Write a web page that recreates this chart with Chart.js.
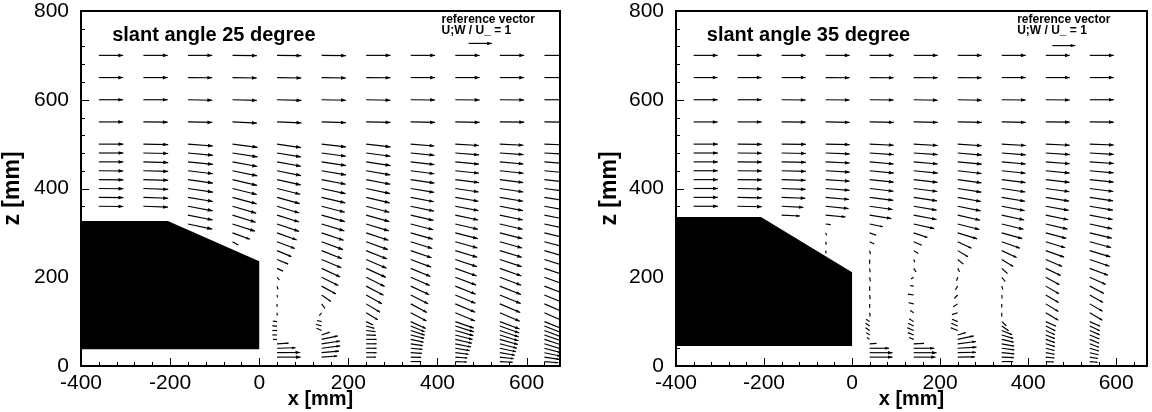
<!DOCTYPE html>
<html><head><meta charset="utf-8">
<script src="https://cdn.jsdelivr.net/npm/chart.js@4.4.1/dist/chart.umd.min.js"></script>
<style>
html,body{margin:0;padding:0;background:#fff;overflow:hidden;}
.w{position:absolute;top:0;width:576px;height:412px;}
#w1{left:0}#w2{left:576px}
</style></head><body>
<div class="w" id="w1"><canvas id="c1" width="576" height="412"></canvas></div>
<div class="w" id="w2"><canvas id="c2" width="576" height="412"></canvas></div>
<script>
const _ = null;
// measurement heights z [mm] (rows)
const zRows = [700,650,600,550, 500,480,460,440,420,400,380,360,340,320,300,280,260,240,220,200,180,160,140,120, 100,90,80,70,60,50,40,30,20,10];
const xTicks = [-400,-200,0,200,400,600];
const xTickLabels = ['-400','-200','0','200','400','600'];
const zTicks = [0,200,400,600,800];
const zTickLabels = ['0','200','400','600','800'];
const titles = ['slant angle 25 degree','slant angle 35 degree'];
const refLabel1 = 'reference vector';
const refLabel2 = 'U;W / U_ = 1';
const refU = 1;

// ---- slant angle 25 degree ----
const xCols25 = [-360,-260,-160,-60,40,140,240,340,440,540,640];
const u25 = [
 [1.05,1.05,1.05,1.05, 1.06,1.06,1.06,1.06,1.06,1.06,1.06,1.06,_,_,_,_,_,_,_,_,_,_,_,_, _,_,_,_,_,_,_,_,_,_],
 [1.05,1.05,1.05,1.05, 1.07,1.07,1.07,1.07,1.07,1.07,1.07,1.06,_,_,_,_,_,_,_,_,_,_,_,_, _,_,_,_,_,_,_,_,_,_],
 [1.05,1.05,1.05,1.05, 1.08,1.08,1.08,1.08,1.08,1.08,1.08,1.07,1.07,1.05,_,_,_,_,_,_,_,_,_,_, _,_,_,_,_,_,_,_,_,_],
 [1.05,1.05,1.05,1.05, 1.08,1.08,1.07,1.07,1.06,1.05,1.04,1.02,1.0,0.97,0.75,0.25,_,_,_,_,_,_,_,_, _,_,_,_,_,_,_,_,_,_],
 [1.05,1.05,1.05,1.05, 1.03,1.03,1.03,1.03,1.02,1.0,0.98,0.96,0.95,0.95,0.85,0.77,0.62,0.48,0.26,0.1,0.04,0.02,0.0,0.01, -0.18,-0.2,-0.2,-0.2,-0.18,0.5,0.8,1.0,1.02,_],
 [1.05,1.05,1.05,1.05, 1.05,1.05,1.05,1.05,1.04,1.03,1.02,1.0,1.0,0.98,0.95,0.92,0.88,0.85,0.8,0.72,0.62,0.4,0.15,-0.1, -0.2,-0.25,-0.22,0.35,0.7,0.8,0.8,0.75,0.68,_],
 [1.05,1.05,1.05,1.05, 1.05,1.05,1.05,1.04,1.04,1.03,1.02,1.0,1.0,0.98,0.96,0.94,0.9,0.88,0.85,0.8,0.75,0.68,0.6,0.5, 0.3,0.35,0.4,0.42,0.45,0.45,0.45,0.45,0.42,_],
 [1.05,1.05,1.05,1.05, 1.02,1.02,1.02,1.02,1.02,1.01,1.0,1.0,0.98,0.97,0.95,0.93,0.9,0.88,0.85,0.82,0.8,0.75,0.7,0.68, 0.65,0.6,0.6,0.58,0.55,0.52,0.5,0.48,0.45,0.45],
 [1.05,1.05,1.05,1.05, 1.02,1.02,1.02,1.02,1.02,1.01,1.0,1.0,0.99,0.98,0.97,0.96,0.95,0.93,0.92,0.9,0.88,0.87,0.86,0.85, 0.8,0.8,0.78,0.75,0.72,0.68,0.62,0.57,0.52,0.5],
 [1.05,1.05,1.05,1.05, 1.02,1.02,1.02,1.02,1.01,1.01,1.0,1.0,0.99,0.98,0.97,0.96,0.95,0.94,0.93,0.92,0.91,0.9,0.88,0.86, 0.85,0.84,0.82,0.8,0.78,0.74,0.7,0.65,0.6,0.56],
 [1.05,1.05,1.05,1.05, 1.02,1.02,1.02,1.02,1.02,1.01,1.01,1.0,1.0,0.99,0.98,0.97,0.96,0.95,0.94,0.93,0.92,0.91,0.9,0.9, 0.9,0.88,0.86,0.84,0.82,0.78,0.74,0.7,0.65,0.6]
];
const w25 = [
 [0,0,0,0, 0,0,0,-0.01,-0.01,-0.01,-0.01,-0.01,_,_,_,_,_,_,_,_,_,_,_,_, _,_,_,_,_,_,_,_,_,_],
 [0,0,0,-0.01, -0.02,-0.02,-0.03,-0.03,-0.03,-0.04,-0.04,-0.04,_,_,_,_,_,_,_,_,_,_,_,_, _,_,_,_,_,_,_,_,_,_],
 [0,-0.01,-0.02,-0.02, -0.08,-0.1,-0.11,-0.13,-0.15,-0.16,-0.18,-0.2,-0.21,-0.22,_,_,_,_,_,_,_,_,_,_, _,_,_,_,_,_,_,_,_,_],
 [-0.01,-0.02,-0.03,-0.05, -0.14,-0.17,-0.2,-0.22,-0.25,-0.26,-0.28,-0.3,-0.31,-0.31,-0.28,-0.14,_,_,_,_,_,_,_,_, _,_,_,_,_,_,_,_,_,_],
 [-0.01,-0.02,-0.03,-0.04, -0.15,-0.17,-0.19,-0.21,-0.23,-0.25,-0.27,-0.29,-0.3,-0.32,-0.31,-0.29,-0.26,-0.2,-0.12,-0.12,-0.14,-0.1,-0.12,-0.12, 0.02,0.01,0,0,0,0.03,0.02,0.01,0,_],
 [-0.01,-0.02,-0.02,-0.03, -0.12,-0.14,-0.16,-0.18,-0.2,-0.22,-0.24,-0.26,-0.28,-0.3,-0.32,-0.34,-0.35,-0.36,-0.37,-0.36,-0.34,-0.28,-0.2,-0.12, 0.05,0.08,0.1,0.12,0.15,0.12,0.1,0.07,0.05,_],
 [0,-0.01,-0.02,-0.02, -0.12,-0.14,-0.16,-0.18,-0.2,-0.22,-0.24,-0.26,-0.28,-0.3,-0.32,-0.34,-0.36,-0.38,-0.39,-0.4,-0.4,-0.38,-0.36,-0.3, -0.15,-0.1,-0.05,-0.02,0,0,0,0,0,_],
 [0,0,-0.01,-0.02, -0.08,-0.1,-0.12,-0.13,-0.15,-0.17,-0.19,-0.21,-0.23,-0.25,-0.27,-0.29,-0.31,-0.33,-0.35,-0.36,-0.37,-0.38,-0.37,-0.36, -0.3,-0.25,-0.2,-0.15,-0.12,-0.08,-0.05,-0.03,-0.01,0],
 [0,0,-0.01,-0.02, -0.06,-0.08,-0.1,-0.11,-0.13,-0.15,-0.17,-0.19,-0.21,-0.23,-0.25,-0.27,-0.29,-0.31,-0.33,-0.34,-0.35,-0.36,-0.36,-0.36, -0.28,-0.25,-0.22,-0.2,-0.17,-0.14,-0.1,-0.07,-0.04,-0.02],
 [0,0,-0.01,-0.01, -0.05,-0.07,-0.09,-0.11,-0.13,-0.15,-0.17,-0.19,-0.21,-0.23,-0.25,-0.27,-0.29,-0.31,-0.33,-0.35,-0.36,-0.37,-0.37,-0.37, -0.32,-0.3,-0.28,-0.25,-0.22,-0.19,-0.15,-0.11,-0.07,-0.03],
 [0,0,0,-0.01, -0.04,-0.06,-0.08,-0.1,-0.12,-0.14,-0.16,-0.18,-0.2,-0.22,-0.24,-0.26,-0.28,-0.3,-0.32,-0.34,-0.36,-0.38,-0.39,-0.4, -0.36,-0.34,-0.32,-0.3,-0.27,-0.24,-0.2,-0.15,-0.1,-0.05]
];
const bodyX25 = [-400,-400,-205,0,0];
const bodyZ25 = [38,327,327,236,38];

// ---- slant angle 35 degree ----
const xCols35 = [-360,-260,-160,-60,40,140,240,340,440,540];
const u35 = [
 [1.05,1.05,1.05,1.05, 1.06,1.06,1.06,1.06,1.06,1.06,1.06,1.06,_,_,_,_,_,_,_,_,_,_,_,_, _,_,_,_,_,_,_,_,_,_],
 [1.05,1.05,1.05,1.05, 1.06,1.06,1.06,1.06,1.06,1.06,1.06,1.06,_,_,_,_,_,_,_,_,_,_,_,_, _,_,_,_,_,_,_,_,_,_],
 [1.05,1.05,1.05,1.05, 1.06,1.06,1.06,1.06,1.05,1.05,1.04,0.95,0.8,_,_,_,_,_,_,_,_,_,_,_, _,_,_,_,_,_,_,_,_,_],
 [1.05,1.05,1.05,1.05, 1.05,1.05,1.05,1.05,1.05,1.04,1.02,1.0,0.87,0.22,0.04,0.03,0.02,_,_,_,_,_,_,_, _,_,_,_,_,_,_,_,_,_],
 [1.05,1.05,1.05,1.05, 1.05,1.05,1.05,1.05,1.05,1.04,1.03,1.0,0.95,0.58,0.28,0.2,0.03,0.0,0.02,0.03,0.0,0.02,0.0,0.02, -0.15,-0.18,-0.18,-0.15,-0.12,0.3,0.85,1.0,1.0,_],
 [1.05,1.05,1.05,1.05, 1.05,1.05,1.05,1.05,1.04,1.03,1.02,1.0,1.0,0.9,0.6,0.35,0.2,0.05,0.1,-0.12,-0.15,-0.25,-0.22,-0.15, -0.2,-0.25,-0.28,-0.25,-0.2,0.45,0.9,1.0,0.95,_],
 [1.05,1.05,1.05,1.05, 1.05,1.05,1.05,1.04,1.04,1.03,1.02,1.0,0.98,0.95,0.85,0.6,0.45,0.25,0.08,-0.05,-0.1,-0.15,-0.2,-0.25, -0.25,-0.28,-0.3,0.35,0.7,0.8,0.82,0.8,0.75,_],
 [1.05,1.05,1.05,1.05, 1.05,1.05,1.05,1.04,1.04,1.03,1.02,1.0,0.98,0.95,0.9,0.8,0.65,0.5,0.25,0.15,0.05,0.02,0.0,0.0, 0.2,0.3,0.45,0.5,0.52,0.54,0.55,0.55,0.53,0.5],
 [1.05,1.05,1.05,1.05, 1.05,1.05,1.05,1.04,1.04,1.03,1.02,1.0,0.98,0.95,0.9,0.85,0.8,0.72,0.65,0.6,0.58,0.56,0.55,0.55, 0.45,0.42,0.4,0.4,0.4,0.4,0.38,0.38,0.38,0.35],
 [1.05,1.05,1.05,1.05, 1.05,1.05,1.05,1.04,1.04,1.03,1.02,1.01,1.0,0.98,0.96,0.93,0.9,0.86,0.8,0.7,0.62,0.58,0.56,0.55, 0.45,0.44,0.43,0.42,0.41,0.4,0.4,0.38,0.36,0.34]
];
const w35 = [
 [0,0,0,0, 0,0,0,0,0,0,0,0,_,_,_,_,_,_,_,_,_,_,_,_, _,_,_,_,_,_,_,_,_,_],
 [0,0,0,0, -0.01,-0.01,-0.01,-0.01,-0.01,-0.02,-0.02,-0.02,_,_,_,_,_,_,_,_,_,_,_,_, _,_,_,_,_,_,_,_,_,_],
 [0,0,-0.01,-0.01, -0.01,-0.02,-0.02,-0.03,-0.03,-0.04,-0.04,-0.05,-0.04,_,_,_,_,_,_,_,_,_,_,_, _,_,_,_,_,_,_,_,_,_],
 [0,-0.01,-0.01,-0.02, -0.02,-0.04,-0.05,-0.06,-0.07,-0.08,-0.09,-0.1,-0.08,-0.03,-0.1,-0.12,-0.12,_,_,_,_,_,_,_, _,_,_,_,_,_,_,_,_,_],
 [0,-0.01,-0.01,-0.02, -0.05,-0.07,-0.09,-0.1,-0.11,-0.12,-0.13,-0.14,-0.15,-0.12,-0.1,-0.1,-0.15,-0.18,-0.17,-0.18,-0.2,-0.18,-0.17,-0.16, 0.1,0.12,0.12,0.1,0.08,0.02,0,0,0,_],
 [0,-0.01,-0.02,-0.02, -0.06,-0.07,-0.09,-0.1,-0.12,-0.13,-0.15,-0.17,-0.19,-0.2,-0.2,-0.15,-0.12,-0.12,-0.15,-0.08,0.02,0.04,0.05,0.1, 0.12,0.12,0.12,0.1,0.08,0.02,0,0,0,_],
 [0,-0.01,-0.02,-0.02, -0.07,-0.09,-0.1,-0.12,-0.14,-0.16,-0.18,-0.2,-0.22,-0.24,-0.26,-0.28,-0.27,-0.2,-0.15,-0.15,-0.16,-0.15,-0.12,-0.08, 0.1,0.12,0.12,0.1,0.15,0.1,0.05,0.02,0.01,_],
 [0,0,-0.01,-0.02, -0.06,-0.08,-0.09,-0.11,-0.13,-0.15,-0.17,-0.19,-0.21,-0.23,-0.25,-0.28,-0.3,-0.3,-0.22,-0.18,-0.15,-0.15,-0.16,-0.16, -0.18,-0.2,-0.18,-0.15,-0.12,-0.1,-0.07,-0.05,-0.02,0],
 [0,0,-0.01,-0.01, -0.05,-0.07,-0.08,-0.1,-0.12,-0.14,-0.16,-0.18,-0.2,-0.22,-0.24,-0.26,-0.28,-0.3,-0.31,-0.32,-0.33,-0.33,-0.33,-0.32, -0.2,-0.2,-0.18,-0.16,-0.14,-0.12,-0.1,-0.07,-0.04,-0.02],
 [0,0,0,-0.01, -0.04,-0.06,-0.07,-0.09,-0.11,-0.13,-0.15,-0.17,-0.19,-0.21,-0.23,-0.25,-0.27,-0.29,-0.3,-0.31,-0.32,-0.32,-0.32,-0.32, -0.2,-0.2,-0.19,-0.18,-0.17,-0.15,-0.12,-0.09,-0.06,-0.03]
];
const bodyX35 = [-400,-400,-207,0,0];
const bodyZ35 = [45,336,336,211,45];

const FONT = '"Liberation Sans", Arial, Helvetica, sans-serif';
const REF_MM = 52; // length in mm of a vector of magnitude 1

function drawArrow(ctx,x0,y0,x1,y1){
  const dx=x1-x0, dy=y1-y0, L=Math.hypot(dx,dy);
  if(L<0.6) return;
  ctx.beginPath(); ctx.moveTo(x0,y0); ctx.lineTo(x1,y1); ctx.stroke();
  const hl=Math.min(6,0.2*L), hw=Math.min(1.9,0.075*L);
  const ux=dx/L, uy=dy/L, bx=x1-ux*hl, by=y1-uy*hl;
  ctx.beginPath(); ctx.moveTo(x1,y1);
  ctx.lineTo(bx-uy*hw, by+ux*hw); ctx.lineTo(bx+uy*hw, by-ux*hw);
  ctx.closePath(); ctx.fill();
}

function makeChart(id, cfg){
  const data=[];
  cfg.cols.forEach((x,c)=>zRows.forEach((z,r)=>{
    const u=cfg.u[c][r]; if(u!==null && u!==undefined) data.push({x:x,y:z,u:u,w:cfg.w[c][r]});
  }));
  const plug={
    id:'quiver'+id,
    beforeDatasetsDraw(chart){
      const ctx=chart.ctx, xs=chart.scales.x, ys=chart.scales.y;
      ctx.save(); ctx.fillStyle='#000'; ctx.beginPath();
      cfg.bx.forEach((bx,i)=>{const px=xs.getPixelForValue(bx), py=ys.getPixelForValue(cfg.bz[i]); if(i===0)ctx.moveTo(px,py); else ctx.lineTo(px,py);});
      ctx.closePath(); ctx.fill(); ctx.restore();
    },
    afterDatasetsDraw(chart){
      const ctx=chart.ctx, xs=chart.scales.x, ys=chart.scales.y, a=chart.chartArea;
      const meta=chart.getDatasetMeta(0), ds=chart.data.datasets[0].data;
      ctx.save(); ctx.beginPath(); ctx.rect(a.left,a.top,a.right-a.left,a.bottom-a.top); ctx.clip();
      ctx.strokeStyle='#000'; ctx.fillStyle='#000'; ctx.lineWidth=1.15;
      meta.data.forEach((el,i)=>{
        const d=ds[i];
        const x1=xs.getPixelForValue(d.x+d.u*REF_MM), y1=ys.getPixelForValue(d.y+d.w*REF_MM);
        drawArrow(ctx,el.x,el.y,x1,y1);
      });
      // reference vector
      const rx=xs.getPixelForValue(cfg.refX), ry=ys.getPixelForValue(cfg.refZ);
      drawArrow(ctx,rx,ry,xs.getPixelForValue(cfg.refX+refU*REF_MM),ry);
      ctx.restore();
    },
    afterDraw(chart){
      const ctx=chart.ctx, xs=chart.scales.x, ys=chart.scales.y, a=chart.chartArea;
      ctx.save();
      ctx.strokeStyle='#000'; ctx.lineWidth=1;
      // ticks (inward)
      for(let v=-400; v<=xs.max; v+=40){
        const px=Math.round(xs.getPixelForValue(v))+0.5, len=(xTicks.includes(v))?8:4;
        ctx.beginPath(); ctx.moveTo(px,a.bottom); ctx.lineTo(px,a.bottom-len); ctx.stroke();
      }
      for(let v=0; v<=800; v+=40){
        const py=Math.round(ys.getPixelForValue(v))+0.5, len=(zTicks.includes(v))?8:4;
        ctx.beginPath(); ctx.moveTo(a.left,py); ctx.lineTo(a.left+len,py); ctx.stroke();
      }
      // frame
      ctx.lineWidth=2;
      ctx.strokeRect(a.left,a.top,a.right-a.left,a.bottom-a.top);
      // texts
      ctx.fillStyle='#000'; ctx.textBaseline='middle'; ctx.textAlign='left';
      ctx.font='bold 20px '+FONT;
      ctx.fillText(cfg.title, xs.getPixelForValue(-330), ys.getPixelForValue(745));
      ctx.font='bold 12px '+FONT;
      ctx.fillText(refLabel1, xs.getPixelForValue(cfg.refTextX), ys.getPixelForValue(781));
      ctx.fillText(refLabel2, xs.getPixelForValue(cfg.refTextX), ys.getPixelForValue(755));
      ctx.font='bold 20px '+FONT; ctx.textAlign='center';
      ctx.fillText('x [mm]', (a.left+a.right)/2, 399);
      ctx.font='bold 23px '+FONT;
      ctx.translate(cfg.zTitleX,(a.top+a.bottom)/2); ctx.rotate(-Math.PI/2);
      ctx.fillText('z [mm]',0,0);
      ctx.restore();
    }
  };
  const noPad = s=>{s.paddingTop=0;s.paddingBottom=0;s.paddingLeft=0;s.paddingRight=0;};
  return new Chart(document.getElementById(id),{
    type:'scatter',
    data:{datasets:[{data:data,pointRadius:0,pointHoverRadius:0,borderColor:'#000',backgroundColor:'#000'}]},
    options:{
      responsive:false, animation:false, devicePixelRatio:1, events:[],
      layout:{padding:{left:0,right:cfg.padR,top:11,bottom:0}},
      plugins:{legend:{display:false},tooltip:{enabled:false}},
      scales:{
        x:{type:'linear',min:-400,max:cfg.xMax,
          grid:{display:false,drawTicks:false},border:{display:false},
          afterBuildTicks:s=>{s.ticks=xTicks.map(v=>({value:v}));},
          afterFit:s=>{s.height=46;noPad(s);},
          ticks:{color:'#000',font:{family:FONT,size:21},padding:5,maxRotation:0,autoSkip:false,
            callback:(v,i)=>xTickLabels[i]}},
        y:{type:'linear',min:0,max:800,
          grid:{display:false,drawTicks:false},border:{display:false},
          afterBuildTicks:s=>{s.ticks=zTicks.map(v=>({value:v}));},
          afterFit:s=>{s.width=cfg.yW;noPad(s);},
          ticks:{color:'#000',font:{family:FONT,size:21},padding:12,autoSkip:false,
            callback:(v,i)=>zTickLabels[i]}}
      }
    },
    plugins:[plug]
  });
}

makeChart('c1',{cols:xCols25,u:u25,w:w25,bx:bodyX25,bz:bodyZ25,title:titles[0],
  xMax:675,padR:16,yW:81,zTitleX:13,refX:470,refZ:727,refTextX:409});
makeChart('c2',{cols:xCols35,u:u35,w:w35,bx:bodyX35,bz:bodyZ35,title:titles[1],
  xMax:670,padR:5,yW:100,zTitleX:34,refX:455,refZ:722,refTextX:375});
</script>
</body></html>
